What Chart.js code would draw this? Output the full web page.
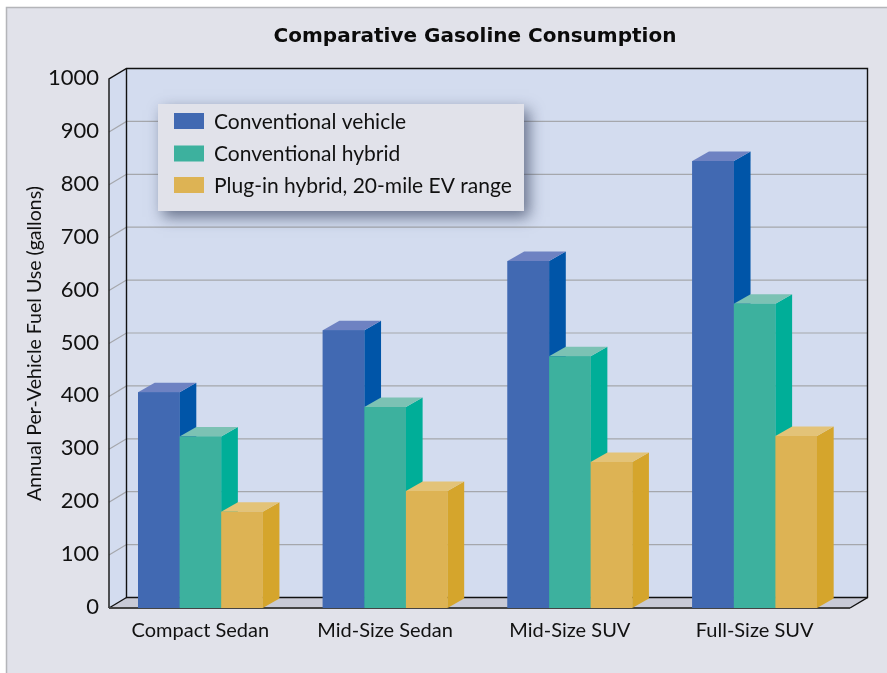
<!DOCTYPE html>
<html><head><meta charset="utf-8">
<style>html,body{margin:0;padding:0;background:#fff}canvas{display:block}</style>
<script src="https://cdn.jsdelivr.net/npm/chart.js@4"></script></head>
<body><canvas id="c" width="887" height="673"></canvas>
<script>
const categories = ['Compact Sedan','Mid-Size Sedan','Mid-Size SUV','Full-Size SUV'];
const conventionalVehicle = [408,525,656,845];
const conventionalHybrid = [324,380,476,575];
const pluginHybrid = [182,221,276,325];
const seriesNames = ['Conventional vehicle','Conventional hybrid','Plug-in hybrid, 20-mile EV range'];
const frontColors = ['#4169B2','#3DB19E','#DDB354'];
const sideColors = ['#0055A8','#00AE98','#D5A52C'];
const topColors = ['#6E82C2','#7CC2B4','#E3C378'];
const FONT = 'Lato, sans-serif';

const wall = {dx:17.5, dy:10.5};
const bar3d = {dx:16.7, dy:9.5};

function poly(ctx, pts, fill, stroke, lw){
  ctx.beginPath();
  pts.forEach((p,i)=> i?ctx.lineTo(p[0],p[1]):ctx.moveTo(p[0],p[1]));
  ctx.closePath();
  if(fill){ctx.fillStyle=fill;ctx.fill();}
  if(stroke){ctx.strokeStyle=stroke;ctx.lineWidth=lw||1;ctx.stroke();}
}
const scene = {
  id:'scene',
  afterLayout(chart){
    const t = chart.titleBlock;
    if(t){ t.left = 63; t.right = 887; }
  },
  beforeDraw(chart){
    const ctx = chart.ctx;
    ctx.save();
    ctx.fillStyle='#fff'; ctx.fillRect(0,0,887,673);
    ctx.fillStyle='#E1E2EA'; ctx.fillRect(6,8,881,665);
    ctx.strokeStyle='#B4B5B9'; ctx.lineWidth=1.5;
    ctx.beginPath(); ctx.moveTo(6.5,673); ctx.lineTo(6.5,7.5); ctx.lineTo(887,7.5); ctx.stroke();
    ctx.restore();
  },
  beforeDatasetsDraw(chart){
    const ctx = chart.ctx, y = chart.scales.y, a = chart.chartArea;
    const L = a.left+1, R = a.right+3, T = y.getPixelForValue(1000), B = y.getPixelForValue(0);
    const {dx,dy} = wall;
    ctx.save();
    poly(ctx,[[L+dx,T-dy],[R+dx,T-dy],[R+dx,B-dy],[L+dx,B-dy]],'#D3DCEF');
    poly(ctx,[[L,T],[L+dx,T-dy],[L+dx,B-dy],[L,B]],'#D3DCEF');
    poly(ctx,[[L,B],[L+dx,B-dy],[R+dx,B-dy],[R,B]],'#C8CAD6');
    ctx.strokeStyle='#A5A7AC'; ctx.lineWidth=1.2;
    for(let v=100;v<1000;v+=100){
      const p=y.getPixelForValue(v);
      ctx.beginPath(); ctx.moveTo(L,p); ctx.lineTo(L+dx,p-dy); ctx.lineTo(R+dx,p-dy); ctx.stroke();
    }
    ctx.strokeStyle='#111'; ctx.lineWidth=1.4;
    ctx.beginPath(); ctx.moveTo(L,B); ctx.lineTo(L,T); ctx.lineTo(L+dx,T-dy);
    ctx.lineTo(R+dx,T-dy); ctx.lineTo(R+dx,B-dy); ctx.lineTo(R,B); ctx.stroke();
    ctx.beginPath(); ctx.moveTo(L+dx,T-dy); ctx.lineTo(L+dx,B-dy); ctx.lineTo(R+dx,B-dy); ctx.stroke();
    ctx.beginPath(); ctx.moveTo(L,B); ctx.lineTo(L+dx,B-dy); ctx.stroke();
    ctx.strokeStyle='#444'; ctx.lineWidth=2;
    ctx.beginPath(); ctx.moveTo(L,B); ctx.lineTo(R,B); ctx.stroke();
    ctx.restore();
  },
  afterDatasetsDraw(chart){
    const ctx = chart.ctx, {dx,dy} = bar3d;
    ctx.save();
    chart.data.datasets.forEach((ds,di)=>{
      chart.getDatasetMeta(di).data.forEach(el=>{
        const l=el.x-el.width/2, r=el.x+el.width/2, t=el.y, b=el.base;
        poly(ctx,[[r,t],[r+dx,t-dy],[r+dx,b-dy],[r,b]],sideColors[di]);
        poly(ctx,[[l,t],[l+dx,t-dy],[r+dx,t-dy],[r,t]],topColors[di]);
        poly(ctx,[[l,t],[r,t],[r,b],[l,b]],frontColors[di]);
      });
    });
    // legend panel
    ctx.save();
    ctx.shadowColor='rgba(45,55,85,0.65)'; ctx.shadowBlur=14; ctx.shadowOffsetX=5; ctx.shadowOffsetY=6;
    ctx.fillStyle='#E1E2EA'; ctx.fillRect(158,104,366,107);
    ctx.restore();
    const rows=[121,153.5,185];
    seriesNames.forEach((n,i)=>{
      ctx.fillStyle=frontColors[i]; ctx.fillRect(174,rows[i]-8,30,16);
      ctx.fillStyle='#111'; ctx.font='21px '+FONT; ctx.textBaseline='middle'; ctx.textAlign='left';
      ctx.fillText(n,214,rows[i]+1);
    });
    ctx.restore();
  }
};

new Chart(document.getElementById('c'),{
  type:'bar',
  data:{labels:categories,datasets:[
    {label:seriesNames[0],data:conventionalVehicle,backgroundColor:frontColors[0]},
    {label:seriesNames[1],data:conventionalHybrid,backgroundColor:frontColors[1]},
    {label:seriesNames[2],data:pluginHybrid,backgroundColor:frontColors[2]}
  ]},
  options:{
    responsive:false, animation:false, devicePixelRatio:1,
    layout:{padding:{left:0,right:40,top:0,bottom:0}},
    categoryPercentage:0.675, barPercentage:1,
    plugins:{
      legend:{display:false}, tooltip:{enabled:false},
      title:{display:true,text:'Comparative Gasoline Consumption',color:'#0b0b0b',align:'center',
        font:{family:'"DejaVu Sans", sans-serif',size:20,weight:'bold',lineHeight:1.2},padding:{top:25,bottom:30}}
    },
    scales:{
      x:{grid:{display:false,drawTicks:false},border:{display:false},
        ticks:{color:'#111',font:{family:FONT,size:20},padding:11,maxRotation:0},
        afterFit(s){s.height=65;}},
      y:{min:0,max:1000,grid:{display:false,drawTicks:false},border:{display:false},
        ticks:{stepSize:100,color:'#111',font:{family:FONT,size:22},padding:9,labelOffset:-1,callback:v=>String(v)},
        title:{display:true,text:'Annual Per-Vehicle Fuel Use (gallons)',color:'#111',
          font:{family:FONT,size:19.5},padding:{top:23,bottom:0}},
        afterFit(s){s.width=108;}}
    }
  },
  plugins:[scene]
});
</script></body></html>
